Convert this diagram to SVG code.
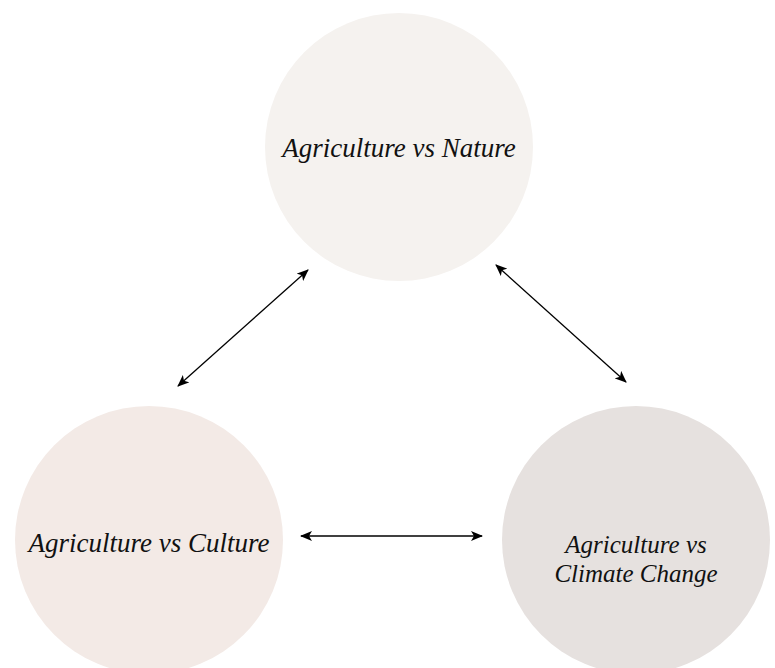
<svg xmlns="http://www.w3.org/2000/svg" width="775" height="668" viewBox="0 0 775 668">
<style>
.lbl{font-family:"Liberation Serif","Times New Roman",serif;font-style:italic;font-size:27px;fill:#111;text-anchor:middle}
.sm{font-size:25px}
.conn{stroke:#000;stroke-width:1.3;fill:none}
</style>
<defs>
<marker id="ah" viewBox="0 0 12 10" refX="11" refY="5" markerWidth="12" markerHeight="10" markerUnits="userSpaceOnUse" orient="auto-start-reverse">
<path d="M0,0 L12,5 L0,10 L3,5 Z" fill="#000"/>
</marker>
</defs>
<rect width="775" height="668" fill="#fff"/>
<g id="node-nature">
<circle cx="399" cy="147" r="134" fill="#F5F2EF"/>
<text class="lbl" x="399" y="157">Agriculture vs Nature</text>
</g>
<g id="node-culture">
<circle cx="149" cy="540" r="134" fill="#F3EAE6"/>
<text class="lbl" x="149" y="552">Agriculture vs Culture</text>
</g>
<g id="node-climate">
<circle cx="636" cy="540" r="134" fill="#E6E1DF"/>
<text class="lbl sm" x="636" y="553">Agriculture vs</text>
<text class="lbl sm" x="636" y="582">Climate Change</text>
</g>
<g id="connectors">
<line class="conn" x1="178" y1="386" x2="308" y2="270" marker-start="url(#ah)" marker-end="url(#ah)"/>
<line class="conn" x1="496" y1="265" x2="626" y2="382" marker-start="url(#ah)" marker-end="url(#ah)"/>
<line class="conn" x1="301" y1="536" x2="482" y2="536" marker-start="url(#ah)" marker-end="url(#ah)"/>
</g>
</svg>
